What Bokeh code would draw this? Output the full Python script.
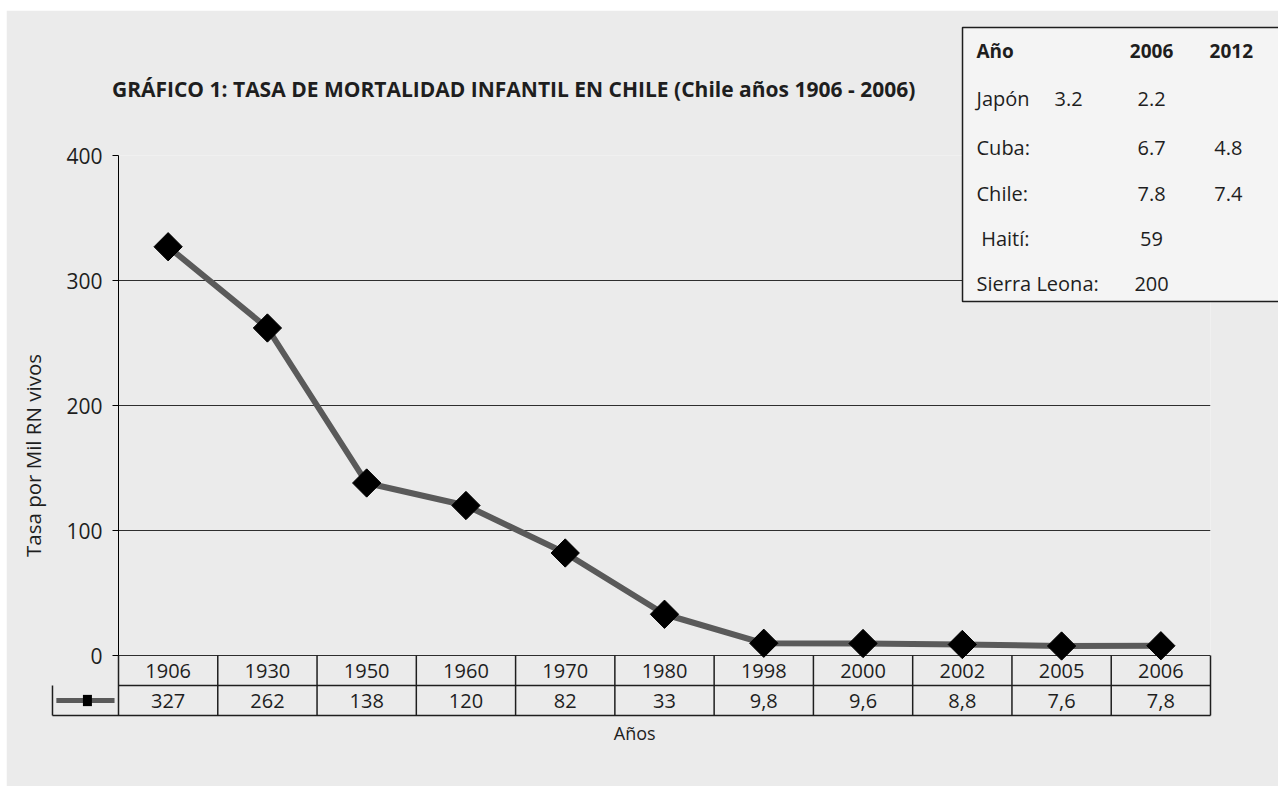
import math
from bokeh.plotting import figure
from bokeh.models import Range1d, FixedTicker, ColumnDataSource, Spacer
from bokeh.layouts import column, row
from bokeh.core.properties import value
from bokeh.embed import file_html
from bokeh.resources import INLINE

# ---- data ----
years = ["1906", "1930", "1950", "1960", "1970", "1980", "1998", "2000", "2002", "2005", "2006"]
rates = [327, 262, 138, 120, 82, 33, 9.8, 9.6, 8.8, 7.6, 7.8]
y_ticks = [0, 100, 200, 300, 400]

inset_header = ["Año", "2006", "2012"]
countries = ["Japón", "Cuba:", "Chile:", "Haití:", "Sierra Leona:"]
vals_2006 = ["2.2", "6.7", "7.8", "59", "200"]
vals_2012 = ["", "4.8", "7.4", "", ""]
japon_extra = "3.2"

title_text = "GRÁFICO 1: TASA DE MORTALIDAD INFANTIL EN CHILE (Chile años 1906 - 2006)"
y_label = "Tasa por Mil RN vivos"
x_label = "Años"

FONT = "Open Sans"
BG = "#ebebeb"
INK = "#1e1e1e"

W, H = 1272, 776
p = figure(width=W, height=H, output_backend="svg", toolbar_location=None,
           x_range=Range1d(0, 11), y_range=Range1d(-48, 400),
           min_border_left=112, min_border_right=68, min_border_top=145, min_border_bottom=71)
p.background_fill_color = BG
p.border_fill_color = BG
p.outline_line_color = None

p.xaxis.visible = False
p.xgrid.visible = False
p.yaxis.ticker = FixedTicker(ticks=y_ticks)
p.yaxis.major_label_text_font = FONT
p.yaxis.major_label_text_font_size = "21px"
p.yaxis.major_label_text_color = INK
p.yaxis.axis_line_color = "black"
p.yaxis.major_tick_line_color = "black"
p.yaxis.major_tick_out = 6
p.yaxis.major_tick_in = 0
p.yaxis.minor_tick_line_color = None
p.yaxis.major_label_standoff = 10
p.ygrid.ticker = FixedTicker(ticks=y_ticks)
p.ygrid.grid_line_color = "#2e2e2e"
p.ygrid.grid_line_width = 1

xs = [i + 0.5 for i in range(len(years))]
src = ColumnDataSource(dict(x=xs, y=rates, year=years,
                            lab=[("%g" % v).replace(".", ",") for v in rates]))

# main series
p.line("x", "y", source=src, line_color="#5a5a5a", line_width=6)
p.scatter("x", "y", source=src, marker="square", angle=math.pi / 4, size=20,
          fill_color="black", line_color="black")

TXT = dict(text_font=value(FONT), text_color=INK, level="overlay", text_baseline="middle")

# ---- data table below the chart ----
leg_l = -0.665
n = len(years)
p.segment(x0=[0, leg_l], y0=[-24, -48], x1=[n, n], y1=[-24, -48],
          line_color=INK, line_width=1.5, level="overlay")
p.segment(x0=list(range(n + 1)) + [leg_l], y0=[0] * (n + 1) + [-24],
          x1=list(range(n + 1)) + [leg_l], y1=[-48] * (n + 1) + [-48],
          line_color=INK, line_width=1.5, level="overlay")
p.text(x="x", y=-12, text="year", source=src, text_align="center", text_font_size="20px", **TXT)
p.text(x="x", y=-36, text="lab", source=src, text_align="center", text_font_size="20px", **TXT)
p.segment(x0=[-0.626], y0=[-36], x1=[-0.04], y1=[-36], line_color="#5a5a5a", line_width=5,
          level="overlay")
p.segment(x0=[-0.313], y0=[-31.5], x1=[-0.313], y1=[-40.5], line_color="black", line_width=9,
          line_cap="butt", level="overlay")

# ---- inset table ----
p.quad(left=[8.502], right=[11.9], top=[502.4], bottom=[283.2], fill_color="#f4f4f4",
       line_color=INK, line_width=1.5, level="overlay")
row_y = [445.6, 406.4, 369.6, 333.6, 297.6]
hdr_x = [8.643, 10.406, 11.21]
p.text(x=[hdr_x[0]], y=[484], text=[inset_header[0]], text_align="left",
       text_font_style="bold", text_font_size="19px", **TXT)
p.text(x=hdr_x[1:], y=[484, 484], text=inset_header[1:], text_align="center",
       text_font_style="bold", text_font_size="19px", **TXT)
p.text(x=[8.643, 8.643, 8.643, 8.69, 8.643], y=row_y, text=countries, text_align="left",
       text_font_size="20px", **TXT)
p.text(x=[10.406] * 5, y=row_y, text=vals_2006, text_align="center", text_font_size="20px", **TXT)
p.text(x=[11.18] * 5, y=row_y, text=vals_2012, text_align="center", text_font_size="20px", **TXT)
p.text(x=[9.57], y=[row_y[0]], text=[japon_extra], text_align="center", text_font_size="20px", **TXT)

# ---- titles ----
p.text(x=[3.98], y=[453.6], text=[title_text], text_align="center",
       text_font_style="bold", text_font_size="21px", **TXT)
p.text(x=[-0.866], y=[160], text=[y_label], angle=math.pi / 2, text_align="center",
       text_font_size="20.5px", **TXT)
p.text(x=[5.2], y=[-61.6], text=[x_label], text_align="center", text_font_size="18px", **TXT)

layout = column(Spacer(height=10), row(Spacer(width=6), p))
open("out.html", "w").write(file_html(layout, INLINE))
